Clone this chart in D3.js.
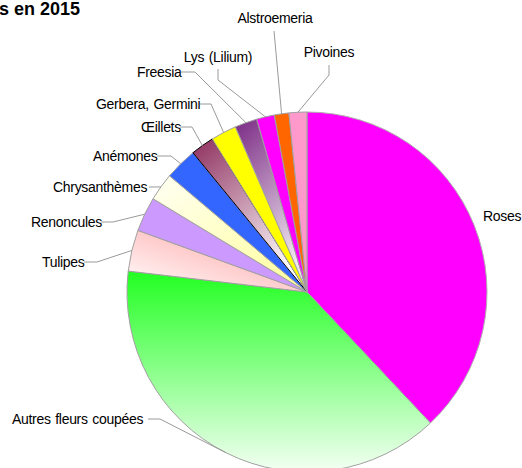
<!DOCTYPE html>
<html><head><meta charset="utf-8">
<script src="https://cdn.jsdelivr.net/npm/d3@7"></script>
<style>
html,body{margin:0;padding:0;background:#fff;overflow:hidden;}
text{font-family:"Liberation Sans",Arial,sans-serif;}
</style></head>
<body><svg id="chart" width="522" height="468"></svg>
<script>
const categories = ["Roses","Autres fleurs coupées","Tulipes","Renoncules","Chrysanthèmes","Anémones","Œillets","Gerbera, Germini","Freesia","Lys (Lilium)","Alstroemeria","Pivoines"];
const values = [37.9, 38.8, 3.7, 3.1, 2.5, 2.9, 2.1, 2.3, 2.0, 1.6, 1.3, 1.6];
const titleText = "s en 2015";

// styling (fill: colour or gradient stops [from,to,x1,y1,x2,y2])
const fills = [
  "#ff00ff",
  ["#22ff22","#f4fff4",0,0,0,1],
  ["#ff9a9a","#ffffff",1,0,0,1],
  "#cc99ff",
  ["#fffff4","#ffff99",0,0,1,1],
  "#3366ff",
  ["#8e2f5e","#ffffff",0,0,0.6,1],
  "#ffff00",
  ["#7a2a84","#f0e8f0",0,0,0.4,1],
  "#ff00ff",
  "#ff6600",
  "#ff99cc"
];
const strokes = ["#b0b0b0","#a0a0a0","#a0a0a0","#a0a0a0","#a0a0a0","#a0a0a0","#000000","#a0a0a0","#a0a0a0","#a0a0a0","#a0a0a0","#a0a0a0"];
// label layout: text x, y, anchor, leader start [x,y], elbow [x,y]
const labelLayout = [
  {x:483,y:216,a:"start",s:null},
  {x:12,y:419,a:"start",s:[148,419],e:[160,419]},
  {x:42,y:262,a:"start",s:[84,262],e:[97,262]},
  {x:31,y:222,a:"start",s:[101,222],e:[113,222]},
  {x:53,y:187,a:"start",s:[149,187],e:[151,187]},
  {x:93,y:156,a:"start",s:[157,156],e:[171,156]},
  {x:141,y:127,a:"start",s:[180,127],e:[192,127]},
  {x:96,y:104,a:"start",s:[200,104],e:[211,104]},
  {x:137,y:72,a:"start",s:[181,72],e:[195,72]},
  {x:218,y:57,a:"middle",s:[218,69],e:[218,80]},
  {x:275,y:18,a:"middle",s:[274,31],e:[274,31]},
  {x:329,y:52,a:"middle",s:[329,65],e:[329,75]}
];

const svg = d3.select("#chart");
const cx = 307, cy = 292, R = 180;
const defs = svg.append("defs");
fills.forEach((f,i)=>{
  if (Array.isArray(f)) {
    const g = defs.append("linearGradient").attr("id","g"+i)
      .attr("x1",f[2]).attr("y1",f[3]).attr("x2",f[4]).attr("y2",f[5]);
    g.append("stop").attr("offset",0).attr("stop-color",f[0]);
    g.append("stop").attr("offset",1).attr("stop-color",f[1]);
  }
});
const fillOf = i => Array.isArray(fills[i]) ? `url(#g${i})` : fills[i];

const pie = d3.pie().sort(null).value(d=>d)(values);
const arc = d3.arc().innerRadius(0).outerRadius(R);
const g = svg.append("g").attr("transform",`translate(${cx},${cy})`);
g.selectAll("path").data(pie).join("path")
  .attr("d",arc)
  .attr("fill",(d,i)=>fillOf(i))
  .attr("stroke",(d,i)=>strokes[i])
  .attr("stroke-width",1)
  .attr("stroke-linejoin","round");

// leader lines
const outer = d3.arc().innerRadius(R).outerRadius(R);
pie.forEach((d,i)=>{
  const L = labelLayout[i];
  if (!L.s) return;
  const c = outer.centroid(d);
  const pts = [L.s, L.e, [cx+c[0], cy+c[1]]];
  svg.append("path").attr("d", d3.line()(pts))
    .attr("fill","none").attr("stroke","#9a9a9a").attr("stroke-width",1);
});
svg.selectAll("text.lbl").data(categories).join("text").attr("class","lbl")
  .attr("x",(d,i)=>labelLayout[i].x).attr("y",(d,i)=>labelLayout[i].y)
  .attr("dy","0.36em").attr("text-anchor",(d,i)=>labelLayout[i].a)
  .attr("font-size","14px").attr("letter-spacing","-0.3px").attr("word-spacing","1px").attr("fill","#000")
  .text(d=>d);

svg.append("text").attr("x",-1).attr("y",15).attr("font-size","18px")
  .attr("font-weight","bold").text(titleText);
</script>
</body></html>
